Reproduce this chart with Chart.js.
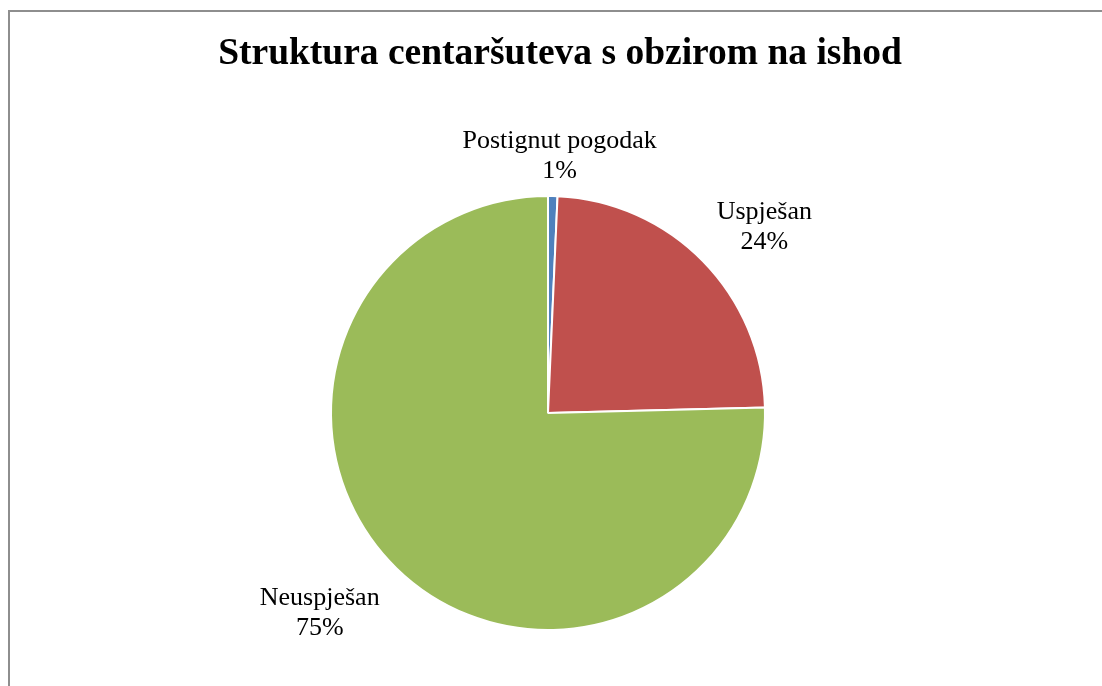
<!DOCTYPE html>
<html lang="hr">
<head>
    <meta charset="UTF-8">
    <title>Struktura centaršuteva s obzirom na ishod</title>
    <script src="https://cdn.jsdelivr.net/npm/chart.js"></script>
    <style>
        html, body { margin: 0; padding: 0; background: #fff; overflow: hidden; }
        #frame {
            position: absolute; left: 8px; top: 10px; width: 1200px; height: 800px;
            border-left: 2px solid #8e8e8e; border-top: 2px solid #8e8e8e;
        }
        #wrap { position: absolute; left: 0; top: 0; width: 1120px; height: 686px; }
    </style>
</head>
<body>
    <div id="frame"></div>
    <div id="wrap"><canvas id="myChart"></canvas></div>

    <script>
        // slice names and shares (%)
        const categories = ["Postignut pogodak", "Uspješan", "Neuspješan"];
        const shares = [0.7, 23.9, 75.4];
        const colors = ["#4F81BD", "#C0504D", "#9BBB59"];
        const chartTitle = 'Struktura centaršuteva s obzirom na ishod';

        // title drawn a bit right of the pie centre, like the original
        const titlePlugin = {
            id: 'titlePlugin',
            afterDraw(chart, args, opts) {
                const ctx = chart.ctx;
                const a = chart.chartArea;
                ctx.save();
                ctx.font = 'bold 37.5px "Liberation Serif"';
                ctx.fillStyle = '#000';
                ctx.textAlign = 'center';
                ctx.textBaseline = 'alphabetic';
                ctx.fillText(chartTitle, (a.left + a.right) / 2 + opts.shiftX, opts.baseline);
                ctx.restore();
            }
        };

        // outside labels: "name" on first line, rounded percent below
        const outsideLabels = {
            id: 'outsideLabels',
            afterDatasetsDraw(chart, args, opts) {
                const ctx = chart.ctx;
                const meta = chart.getDatasetMeta(0);
                const total = shares.reduce((a, b) => a + b, 0);
                ctx.save();
                ctx.font = '26px "Liberation Serif"';
                ctx.fillStyle = '#000';
                ctx.textAlign = 'center';
                ctx.textBaseline = 'middle';
                meta.data.forEach((arc, i) => {
                    const mid = (arc.startAngle + arc.endAngle) / 2;
                    const dx = Math.cos(mid), dy = Math.sin(mid);
                    const lines = [categories[i], Math.round(shares[i] / total * 100) + '%'];
                    const w = Math.max(...lines.map(t => ctx.measureText(t).width));
                    const h = 60;
                    const d = arc.outerRadius + 30;
                    const nudge = opts.nudge[i] || [0, 0];
                    const cx = arc.x + dx * d + dx * w / 2 + nudge[0];
                    const cy = arc.y + dy * d + dy * h / 2 + nudge[1];
                    ctx.fillText(lines[0], cx, cy - 15);
                    ctx.fillText(lines[1], cx, cy + 15);
                });
                ctx.restore();
            }
        };

        const ctx = document.getElementById('myChart').getContext('2d');
        new Chart(ctx, {
            type: 'pie',
            data: {
                labels: categories,
                datasets: [{
                    data: shares,
                    backgroundColor: colors,
                    borderColor: '#ffffff',
                    borderWidth: 2
                }]
            },
            options: {
                responsive: true,
                maintainAspectRatio: false,
                animation: false,
                layout: { padding: { left: 0, right: 24, top: 195, bottom: 55 } },
                plugins: {
                    legend: { display: false },
                    tooltip: { enabled: false },
                    title: { display: false },
                    titlePlugin: { shiftX: 12, baseline: 64 },
                    outsideLabels: { nudge: [[4, 20], [6, 8], [-14, 2]] }
                }
            },
            plugins: [titlePlugin, outsideLabels]
        });
    </script>
</body>
</html>
